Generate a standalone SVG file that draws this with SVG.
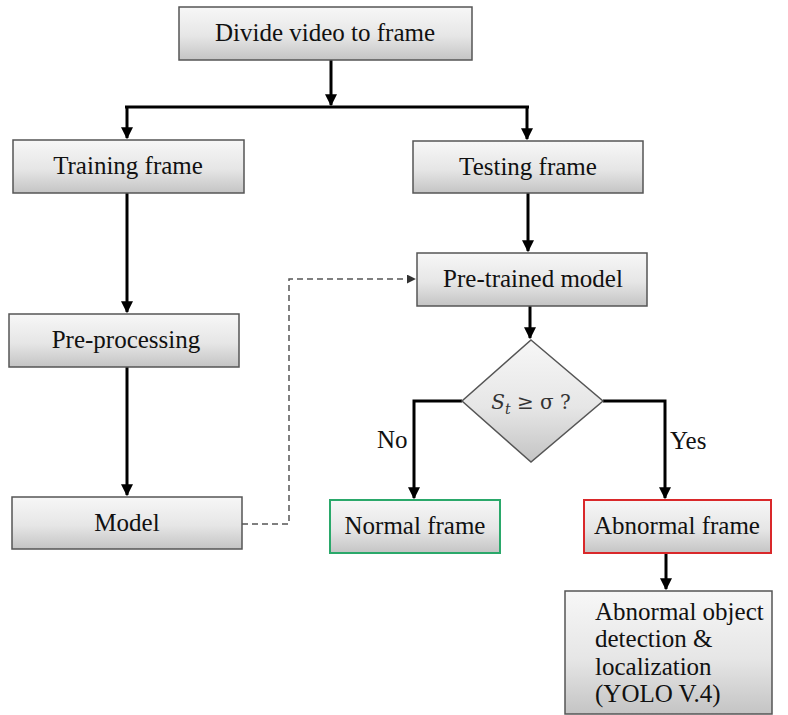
<svg xmlns="http://www.w3.org/2000/svg" width="788" height="715" viewBox="0 0 788 715">
<defs>
<linearGradient id="g" x1="0" y1="0" x2="0" y2="1">
<stop offset="0" stop-color="#f7f7f7"/>
<stop offset="0.55" stop-color="#e6e6e6"/>
<stop offset="1" stop-color="#c4c4c4"/>
</linearGradient>
<marker id="ah" viewBox="0 0 10 10" refX="9" refY="5" markerWidth="4" markerHeight="4" orient="auto" markerUnits="strokeWidth">
<path d="M0,0 L10,5 L0,10 z" fill="#000"/>
</marker>
<marker id="ahd" viewBox="0 0 10 10" refX="9" refY="5" markerWidth="6" markerHeight="6" orient="auto" markerUnits="strokeWidth">
<path d="M0,0 L10,5 L0,10 z" fill="#333"/>
</marker>
<style>
.box{fill:url(#g);stroke:#555;stroke-width:1.5}
.t{font-family:Liberation Serif,Times New Roman,serif;font-size:25px;fill:#111}
.c{stroke:#000;stroke-width:3;fill:none}
.d{stroke:#555;stroke-width:1.5;fill:none;stroke-dasharray:6,4}
</style>
</defs>
<rect width="788" height="715" fill="#fff"/>
<g id="connectors">
<line class="c" x1="331" y1="60" x2="331" y2="105" marker-end="url(#ah)"/>
<line class="c" x1="125" y1="107" x2="529" y2="107"/>
<line class="c" x1="127" y1="107" x2="127" y2="138" marker-end="url(#ah)"/>
<line class="c" x1="527" y1="107" x2="527" y2="139" marker-end="url(#ah)"/>
<line class="c" x1="127" y1="193" x2="127" y2="312" marker-end="url(#ah)"/>
<line class="c" x1="127" y1="367" x2="127" y2="495" marker-end="url(#ah)"/>
<line class="c" x1="528" y1="193" x2="528" y2="251" marker-end="url(#ah)"/>
<line class="c" x1="530" y1="306" x2="530" y2="338" marker-end="url(#ah)"/>
<polyline class="c" points="462,401 414,401 414,498" marker-end="url(#ah)"/>
<polyline class="c" points="603,401 665,401 665,498" marker-end="url(#ah)"/>
<line class="c" x1="666" y1="553" x2="666" y2="589" marker-end="url(#ah)"/>
<polyline class="d" points="242,524 289,524 289,279 415,279" marker-end="url(#ahd)"/>
<text class="t" x="377" y="448">No</text>
<text class="t" x="670" y="449">Yes</text>
</g>
<g id="divide"><rect class="box" x="179" y="7" width="293" height="53"/><text class="t" x="325" y="41" text-anchor="middle">Divide video to frame</text></g>
<g id="training"><rect class="box" x="13" y="140" width="231" height="53"/><text class="t" x="128" y="174" text-anchor="middle">Training frame</text></g>
<g id="testing"><rect class="box" x="413" y="141" width="230" height="52"/><text class="t" x="528" y="175" text-anchor="middle">Testing frame</text></g>
<g id="pretrained"><rect class="box" x="417" y="253" width="230" height="53"/><text class="t" x="533" y="287" text-anchor="middle">Pre-trained model</text></g>
<g id="preprocessing"><rect class="box" x="9" y="314" width="230" height="53"/><text class="t" x="126" y="348" text-anchor="middle">Pre-processing</text></g>
<g id="model"><rect class="box" x="12" y="497" width="230" height="52"/><text class="t" x="127" y="531" text-anchor="middle">Model</text></g>
<g id="decision"><polygon points="531,340 603,401 531,462 462,401" fill="url(#g)" stroke="#555" stroke-width="1.5"/><text x="531" y="409" text-anchor="middle" style="font-family:DejaVu Serif,serif;font-size:20px;fill:#333"><tspan font-style="italic">S</tspan><tspan font-style="italic" font-size="14" dy="5">t</tspan><tspan dy="-5"> ≥ σ ?</tspan></text></g>
<g id="normal"><rect x="330" y="500" width="170" height="53" fill="url(#g)" stroke="#2aa86a" stroke-width="2"/><text class="t" x="415" y="534" text-anchor="middle">Normal frame</text></g>
<g id="abnormal"><rect x="584" y="500" width="187" height="53" fill="url(#g)" stroke="#d9282a" stroke-width="2"/><text class="t" x="677" y="534" text-anchor="middle">Abnormal frame</text></g>
<g id="detection"><rect class="box" x="565" y="591" width="207" height="123"/><text class="t" x="595"><tspan x="595" y="620">Abnormal object</tspan><tspan x="595" y="647">detection &amp;</tspan><tspan x="595" y="675">localization</tspan><tspan x="595" y="702">(YOLO V.4)</tspan></text></g>
</svg>
